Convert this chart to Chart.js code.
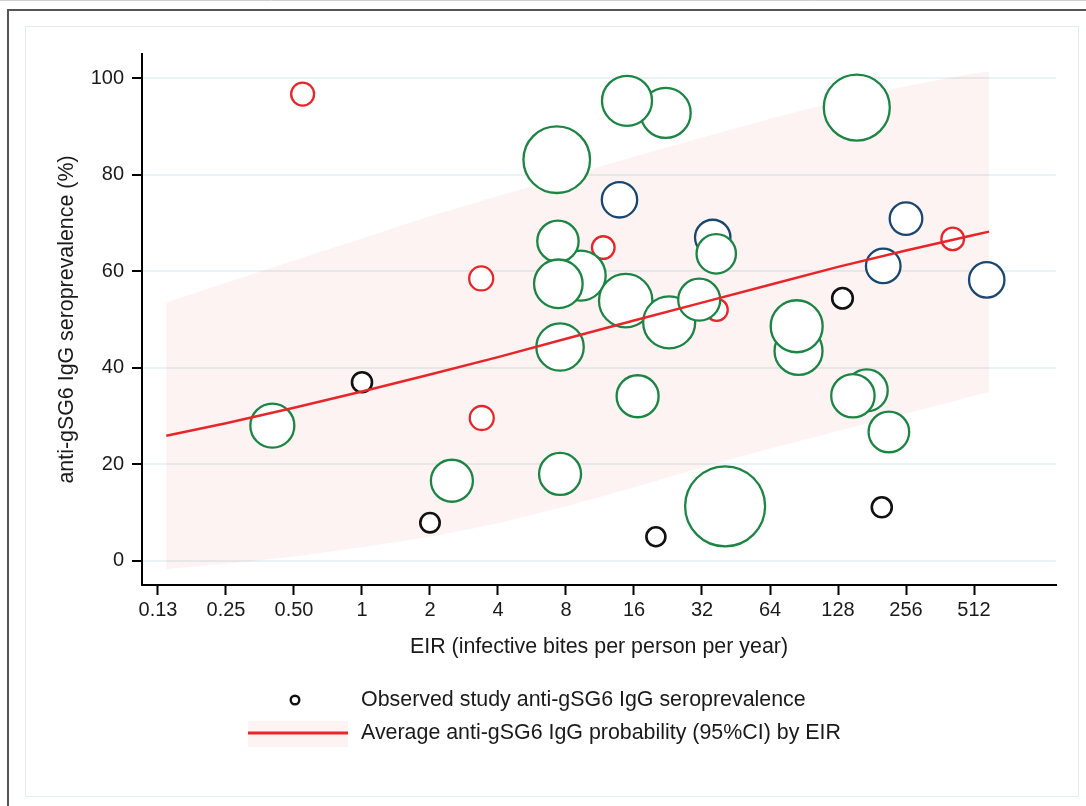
<!DOCTYPE html>
<html>
<head>
<meta charset="utf-8">
<script src="https://cdn.jsdelivr.net/npm/chart.js@4.4.1/dist/chart.umd.min.js"></script>
<style>
  html, body { margin: 0; padding: 0; background: #fff; }
  #wrap { width: 1086px; height: 806px; }
</style>
</head>
<body>
<div id="wrap"><canvas id="eirChart" width="1086" height="806"></canvas></div>
<script>
// axis ticks
const eirTicks = [0.125, 0.25, 0.5, 1, 2, 4, 8, 16, 32, 64, 128, 256, 512];
const eirTickLabels = ["0.13", "0.25", "0.50", "1", "2", "4", "8", "16", "32", "64", "128", "256", "512"];
const seroTicks = [0, 20, 40, 60, 80, 100];

// fitted probability and its 95% CI
const fitEir   = [0.136, 0.25, 0.5, 1, 2, 4, 8, 16, 32, 64, 128, 256, 512, 597];
const fitMean  = [25.9, 28.5, 31.7, 35.1, 38.6, 42.2, 46.0, 49.8, 53.5, 57.2, 60.9, 64.3, 67.5, 68.2];
const fitUpper = [53.5, 57.6, 62.2, 66.8, 71.4, 75.6, 79.6, 83.7, 87.7, 91.6, 95.2, 98.3, 101.0, 101.4];
const fitLower = [-1.7, -0.6, 0.9, 2.8, 5.0, 7.8, 11.3, 15.2, 19.4, 23.3, 26.9, 30.5, 34.2, 35.0];

// observed studies, grouped by marker colour (n = study weight)
const redEir  = [0.546, 11.7, 3.37, 3.39, 37.2, 412];
const redSero = [96.7, 64.9, 58.5, 29.6, 52.0, 66.7];
const redN    = [132, 128, 144, 144, 121, 128];

const navyEir  = [13.8, 35.7, 256, 203, 583];
const navySero = [74.8, 67.0, 70.9, 61.1, 58.2];
const navyN    = [313, 313, 266, 299, 313];

const blackEir  = [1.0, 2.0, 20.0, 134, 200];
const blackSero = [37.0, 7.9, 5.0, 54.4, 11.1];
const blackN    = [100, 94, 90, 106, 100];

const greenEir  = [0.401, 2.50, 7.53, 7.28, 22.1, 14.9, 155, 9.29, 7.37, 7.40, 14.7,
                   7.53, 22.9, 31.1, 37.0, 16.6, 40.5, 85.6, 84.0, 171.5, 149, 215];
const greenSero = [28.0, 16.6, 18.0, 83.1, 92.8, 95.3, 93.9, 59.1, 66.2, 57.4, 53.9,
                   44.3, 49.4, 54.1, 63.6, 34.1, 11.3, 43.5, 48.6, 35.3, 34.2, 26.7];
const greenN    = [484, 441, 441, 1109, 625, 625, 1089, 625, 428, 590, 713,
                   562, 676, 441, 388, 441, 1600, 576, 676, 441, 471, 412];

const RED = '#e8262a';
const BAND = 'rgba(230, 80, 80, 0.07)';
const FONT = '"Liberation Sans", Arial, sans-serif';

function points(xs, ys) {
    return xs.map((x, i) => ({ x: x, y: ys[i] }));
}
function bubbles(xs, ys, ns) {
    return xs.map((x, i) => ({ x: x, y: ys[i], r: Math.sqrt(ns[i]) }));
}
function bubbleSet(label, xs, ys, ns, color, order, width) {
    return {
        type: 'bubble',
        label: label,
        data: bubbles(xs, ys, ns),
        backgroundColor: '#fff',
        borderColor: color,
        borderWidth: width,
        order: order
    };
}

// page frame behind the chart
const framePlugin = {
    id: 'frame',
    beforeDraw(chart) {
        const ctx = chart.ctx;
        ctx.save();
        ctx.fillStyle = '#fff';
        ctx.fillRect(0, 0, chart.width, chart.height);
        ctx.strokeStyle = '#d0d0d0';
        ctx.lineWidth = 1;
        ctx.beginPath(); ctx.moveTo(0, 0.5); ctx.lineTo(chart.width, 0.5); ctx.stroke();
        ctx.strokeStyle = '#555';
        ctx.lineWidth = 2;
        ctx.beginPath();
        ctx.moveTo(8, chart.height);
        ctx.lineTo(8, 10);
        ctx.lineTo(chart.width, 10);
        ctx.stroke();
        ctx.strokeStyle = '#e4ecf1';
        ctx.lineWidth = 1;
        ctx.strokeRect(25.5, 26.5, 1053, 770);
        ctx.restore();
    }
};

// two-row legend under the axis title
const legendPlugin = {
    id: 'stataLegend',
    afterDraw(chart) {
        const ctx = chart.ctx;
        ctx.save();
        ctx.beginPath();
        ctx.arc(295, 700, 4.3, 0, Math.PI * 2);
        ctx.lineWidth = 2.4;
        ctx.strokeStyle = '#111';
        ctx.stroke();

        ctx.fillStyle = BAND;
        ctx.fillRect(248, 721, 100, 26);
        ctx.strokeStyle = RED;
        ctx.lineWidth = 3;
        ctx.beginPath(); ctx.moveTo(248, 733); ctx.lineTo(348, 733); ctx.stroke();

        ctx.fillStyle = '#1a1a1a';
        ctx.font = '21.4px ' + FONT;
        ctx.textBaseline = 'middle';
        ctx.textAlign = 'left';
        ctx.fillText('Observed study anti-gSG6 IgG seroprevalence', 361, 700);
        ctx.fillText('Average anti-gSG6 IgG probability (95%CI) by EIR', 361, 733);
        ctx.restore();
    }
};

const config = {
    type: 'bubble',
    data: {
        datasets: [
            {
                type: 'line',
                label: 'upper',
                data: points(fitEir, fitUpper),
                borderWidth: 0,
                pointRadius: 0,
                backgroundColor: BAND,
                fill: '+1',
                order: 6
            },
            {
                type: 'line',
                label: 'lower',
                data: points(fitEir, fitLower),
                borderWidth: 0,
                pointRadius: 0,
                fill: false,
                order: 6
            },
            bubbleSet('red', redEir, redSero, redN, RED, 4, 2.3),
            bubbleSet('navy', navyEir, navySero, navyN, '#1a476f', 3, 2.3),
            bubbleSet('black', blackEir, blackSero, blackN, '#111', 2, 2.6),
            bubbleSet('green', greenEir, greenSero, greenN, '#1b8543', 1, 2.3),
            {
                type: 'line',
                label: 'Average anti-gSG6 IgG probability (95%CI) by EIR',
                data: points(fitEir, fitMean),
                borderColor: RED,
                borderWidth: 2.5,
                pointRadius: 0,
                fill: false,
                tension: 0,
                order: 0
            }
        ]
    },
    options: {
        responsive: false,
        animation: false,
        events: [],
        layout: {
            autoPadding: false,
            padding: { left: 0, top: 54, right: 30, bottom: 0 }
        },
        plugins: {
            legend: { display: false },
            tooltip: { enabled: false }
        },
        scales: {
            x: {
                type: 'logarithmic',
                min: 0.1062,
                max: 1181,
                afterFit: s => {
                    s.height = 221;
                    s.paddingLeft = 0;
                    s.paddingRight = 0;
                },
                afterBuildTicks: s => { s.ticks = eirTicks.map(v => ({ value: v })); },
                border: { display: true, color: '#000', width: 2 },
                grid: {
                    drawOnChartArea: false,
                    drawTicks: true,
                    tickLength: 10,
                    tickColor: '#000',
                    tickWidth: 2
                },
                ticks: {
                    autoSkip: false,
                    maxRotation: 0,
                    padding: 3,
                    color: '#1a1a1a',
                    font: { size: 20, family: FONT },
                    callback: (v, i) => eirTickLabels[i]
                },
                title: {
                    display: true,
                    text: 'EIR (infective bites per person per year)',
                    color: '#1a1a1a',
                    font: { size: 21.4, family: FONT },
                    padding: { top: 0, bottom: 146 }
                }
            },
            y: {
                type: 'linear',
                min: -5,
                max: 105,
                afterFit: s => {
                    s.width = 142;
                    s.paddingTop = 0;
                    s.paddingBottom = 0;
                },
                afterBuildTicks: s => { s.ticks = seroTicks.map(v => ({ value: v })); },
                border: { display: true, color: '#000', width: 2 },
                grid: {
                    color: '#e9f2f4',
                    lineWidth: 2,
                    drawTicks: true,
                    tickLength: 10,
                    tickColor: '#000',
                    tickWidth: 2
                },
                ticks: {
                    padding: 8,
                    color: '#1a1a1a',
                    font: { size: 20, family: FONT }
                },
                title: {
                    display: true,
                    text: 'anti-gSG6 IgG seroprevalence (%)',
                    color: '#1a1a1a',
                    font: { size: 21.4, family: FONT },
                    padding: { top: 54, bottom: 0 }
                }
            }
        }
    },
    plugins: [framePlugin, legendPlugin]
};

window.onload = function () {
    const ctx = document.getElementById('eirChart').getContext('2d');
    new Chart(ctx, config);
};
</script>
</body>
</html>
